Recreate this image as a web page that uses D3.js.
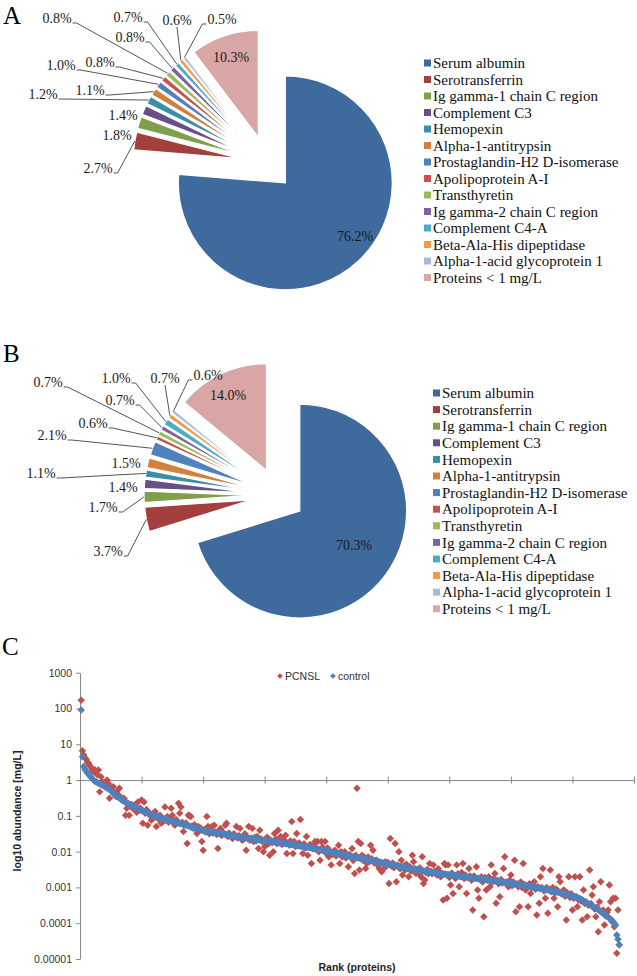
<!DOCTYPE html>
<html>
<head>
<meta charset="utf-8">
<script src="https://cdn.jsdelivr.net/npm/d3@7"></script>
<style>
  body { margin: 0; background: #fff; }
  .serif { font-family: "Liberation Serif", "Times New Roman", serif; }
  .sans { font-family: "Liberation Sans", Arial, sans-serif; }
</style>
</head>
<body>
<svg id="fig" width="637" height="976"></svg>
<script>
// ---- data ----
const proteins = ["Serum albumin", "Serotransferrin", "Ig gamma-1 chain C region", "Complement C3",
  "Hemopexin", "Alpha-1-antitrypsin", "Prostaglandin-H2 D-isomerase", "Apolipoprotein A-I",
  "Transthyretin", "Ig gamma-2 chain C region", "Complement C4-A", "Beta-Ala-His dipeptidase",
  "Alpha-1-acid glycoprotein 1", "Proteins < 1 mg/L"];
const shareA = [76.2, 2.7, 1.8, 1.4, 1.2, 1.1, 1.0, 0.8, 0.8, 0.8, 0.7, 0.6, 0.5, 10.3];
const shareB = [70.3, 3.7, 1.7, 1.4, 1.1, 1.5, 2.1, 0.6, 0.7, 0.7, 1.0, 0.7, 0.6, 14.0];

const seriesNames = ["PCNSL", "control"];
const rankTicks = [0, 50, 100, 150, 200, 250, 300, 350, 400, 450];
const logTicks = [-5, -4, -3, -2, -1, 0, 1, 2, 3];
const logTickLabels = ["0.00001", "0.0001", "0.001", "0.01", "0.1", "1", "10", "100", "1000"];

// log10 abundance [mg/L], ordered by rank (control order)
const control = [
  1.96,0.65,0.38,0.30,0.25,0.20,0.16,0.12,0.08,0.04,
  0.00,-0.03,-0.05,-0.07,-0.09,-0.10,-0.12,-0.14,-0.16,-0.18,
  -0.20,-0.22,-0.24,-0.26,-0.29,-0.33,-0.37,-0.40,-0.43,-0.45,
  -0.48,-0.50,-0.53,-0.55,-0.58,-0.60,-0.62,-0.64,-0.66,-0.68,
  -0.70,-0.71,-0.73,-0.74,-0.76,-0.78,-0.80,-0.81,-0.83,-0.85,
  -0.86,-0.88,-0.89,-0.91,-0.92,-0.94,-0.95,-0.96,-0.98,-0.99,
  -1.00,-1.01,-1.02,-1.04,-1.05,-1.06,-1.07,-1.08,-1.09,-1.10,
  -1.11,-1.12,-1.13,-1.14,-1.15,-1.16,-1.17,-1.18,-1.19,-1.20,
  -1.21,-1.22,-1.23,-1.24,-1.25,-1.26,-1.27,-1.28,-1.29,-1.31,
  -1.32,-1.33,-1.34,-1.35,-1.36,-1.37,-1.38,-1.39,-1.40,-1.41,
  -1.42,-1.42,-1.43,-1.44,-1.45,-1.45,-1.46,-1.46,-1.47,-1.47,
  -1.48,-1.48,-1.49,-1.50,-1.50,-1.51,-1.51,-1.52,-1.53,-1.53,
  -1.54,-1.55,-1.55,-1.56,-1.56,-1.57,-1.58,-1.58,-1.59,-1.60,
  -1.60,-1.61,-1.61,-1.62,-1.62,-1.63,-1.63,-1.64,-1.64,-1.65,
  -1.65,-1.66,-1.66,-1.66,-1.67,-1.67,-1.68,-1.68,-1.68,-1.69,
  -1.69,-1.70,-1.70,-1.71,-1.71,-1.72,-1.72,-1.73,-1.73,-1.74,
  -1.74,-1.75,-1.75,-1.76,-1.76,-1.77,-1.77,-1.78,-1.78,-1.79,
  -1.79,-1.80,-1.81,-1.81,-1.82,-1.82,-1.83,-1.84,-1.84,-1.85,
  -1.85,-1.86,-1.86,-1.87,-1.88,-1.88,-1.89,-1.89,-1.90,-1.91,
  -1.91,-1.92,-1.93,-1.94,-1.94,-1.95,-1.96,-1.97,-1.98,-1.99,
  -1.99,-2.00,-2.01,-2.02,-2.02,-2.03,-2.04,-2.04,-2.05,-2.06,
  -2.07,-2.07,-2.08,-2.09,-2.10,-2.10,-2.11,-2.12,-2.13,-2.13,
  -2.14,-2.15,-2.16,-2.16,-2.17,-2.18,-2.18,-2.19,-2.20,-2.20,
  -2.21,-2.22,-2.22,-2.23,-2.24,-2.24,-2.25,-2.26,-2.26,-2.27,
  -2.28,-2.29,-2.29,-2.30,-2.31,-2.32,-2.32,-2.33,-2.34,-2.35,
  -2.35,-2.36,-2.36,-2.37,-2.38,-2.39,-2.39,-2.40,-2.41,-2.42,
  -2.42,-2.43,-2.44,-2.44,-2.45,-2.46,-2.46,-2.47,-2.48,-2.48,
  -2.49,-2.50,-2.50,-2.51,-2.52,-2.52,-2.53,-2.54,-2.54,-2.55,
  -2.55,-2.56,-2.56,-2.57,-2.57,-2.58,-2.58,-2.59,-2.59,-2.60,
  -2.60,-2.61,-2.61,-2.62,-2.62,-2.63,-2.63,-2.64,-2.64,-2.65,
  -2.65,-2.66,-2.66,-2.67,-2.67,-2.67,-2.68,-2.68,-2.69,-2.69,
  -2.69,-2.70,-2.70,-2.71,-2.71,-2.71,-2.72,-2.72,-2.73,-2.73,
  -2.74,-2.74,-2.75,-2.75,-2.76,-2.76,-2.77,-2.77,-2.78,-2.78,
  -2.79,-2.79,-2.80,-2.80,-2.81,-2.81,-2.82,-2.82,-2.83,-2.83,
  -2.84,-2.84,-2.85,-2.85,-2.86,-2.86,-2.87,-2.87,-2.88,-2.88,
  -2.89,-2.90,-2.90,-2.91,-2.91,-2.92,-2.92,-2.93,-2.93,-2.94,
  -2.94,-2.95,-2.95,-2.96,-2.97,-2.97,-2.98,-2.99,-2.99,-3.00,
  -3.01,-3.01,-3.02,-3.03,-3.03,-3.04,-3.05,-3.06,-3.06,-3.07,
  -3.08,-3.09,-3.09,-3.10,-3.11,-3.11,-3.12,-3.13,-3.14,-3.15,
  -3.16,-3.17,-3.18,-3.19,-3.19,-3.20,-3.21,-3.22,-3.23,-3.25,
  -3.26,-3.27,-3.28,-3.29,-3.30,-3.31,-3.33,-3.35,-3.37,-3.40,
  -3.42,-3.44,-3.46,-3.48,-3.50,-3.52,-3.54,-3.56,-3.58,-3.60,
  -3.63,-3.65,-3.67,-3.70,-3.72,-3.74,-3.77,-3.80,-3.83,-3.86,
  -3.89,-3.92,-3.96,-4.00,-4.05,-4.33,-4.45,-4.61
];

const pcnsl = [
  2.23,0.82,0.70,0.62,0.58,0.50,0.47,0.40,0.35,0.28,
  0.23,0.29,0.20,0.15,0.28,-0.33,0.09,-0.05,-0.08,-0.12,
  -0.15,0.00,-0.09,-0.51,-0.20,-0.25,-0.19,-0.35,-0.45,-0.33,
  -0.42,-0.23,-0.48,-0.56,-0.51,-0.52,-0.98,-0.79,-0.65,-0.98,
  -0.72,-0.68,-0.80,-0.70,-0.75,-0.90,-0.61,-0.85,-0.78,-0.56,
  -1.21,-0.61,-0.93,-0.82,-1.26,-0.90,-1.00,-1.12,-0.95,-1.05,
  -0.88,-1.30,-1.02,-1.10,-0.98,-1.21,-1.08,-1.15,-0.75,-1.12,
  -1.02,-1.18,-1.08,-0.79,-0.98,-1.20,-1.26,-1.10,-1.15,-0.65,
  -0.93,-0.75,-1.18,-1.44,-1.25,-1.20,-1.77,-0.98,-1.00,-1.02,
  -1.28,-1.35,-1.25,-1.32,-1.49,-1.30,-1.40,-1.34,-1.72,-1.96,
  -1.38,-1.45,-1.02,-1.30,-1.50,-1.40,-1.30,-1.48,-1.26,-1.45,
  -1.52,-1.91,-1.40,-1.35,-1.55,-1.45,-1.50,-1.26,-1.21,-1.58,
  -1.48,-1.54,-1.60,-1.63,-1.50,-1.58,-1.30,-1.62,-1.55,-1.35,
  -1.65,-1.68,-1.58,-1.50,-1.96,-1.60,-1.30,-1.68,-1.62,-1.35,
  -1.72,-1.60,-1.70,-1.58,-1.91,-1.40,-1.65,-1.72,-2.00,-1.86,
  -1.70,-1.60,-1.78,-2.10,-1.68,-1.75,-2.00,-1.49,-1.65,-1.78,
  -1.40,-1.70,-1.58,-1.80,-1.72,-1.68,-1.54,-2.05,-1.76,-1.82,
  -1.70,-1.16,-2.05,-1.72,-1.86,-1.49,-1.80,-1.76,-1.10,-1.85,
  -2.05,-1.78,-1.90,-1.58,-2.10,-1.86,-1.80,-2.33,-1.92,-1.82,
  -1.72,-1.95,-1.72,-2.00,-2.24,-1.72,-1.88,-1.96,-1.72,-2.05,
  -1.90,-2.14,-1.98,-2.37,-2.08,-2.00,-1.96,-2.12,-2.05,-1.82,
  -2.33,-2.00,-2.15,-2.05,-2.00,-2.18,-2.12,-2.42,-2.08,-2.15,
  -1.91,-2.25,-2.61,-2.10,-0.23,-1.72,-2.51,-1.77,-2.10,-2.25,
  -2.15,-2.47,-2.33,-2.15,-2.28,-1.82,-2.20,-1.96,-2.32,-2.25,
  -2.24,-2.38,-2.47,-2.30,-2.56,-2.50,-2.35,-2.28,-2.40,-2.30,
  -2.89,-1.63,-2.40,-2.32,-2.45,-1.77,-2.84,-2.38,-2.00,-2.48,
  -2.24,-2.65,-2.40,-2.51,-2.35,-2.48,-2.70,-2.42,-2.55,-2.10,
  -2.28,-2.48,-2.61,-2.50,-2.58,-2.45,-2.70,-2.14,-2.89,-2.79,
  -2.58,-2.50,-2.62,-2.33,-2.55,-2.62,-2.37,-2.55,-2.61,-2.65,
  -2.48,-2.58,-2.70,-2.62,-3.35,-2.33,-2.37,-3.30,-2.37,-2.72,
  -2.93,-2.60,-3.17,-2.68,-2.75,-2.37,-2.62,-2.98,-2.70,-2.58,
  -2.33,-2.75,-2.65,-3.17,-2.72,-2.47,-2.68,-2.80,-3.63,-2.68,
  -2.75,-2.42,-3.07,-3.30,-2.78,-2.70,-2.85,-3.82,-2.72,-3.07,
  -2.80,-2.70,-2.98,-2.37,-2.85,-2.75,-2.61,-3.44,-2.80,-2.90,
  -3.26,-2.78,-2.88,-2.47,-2.14,-2.85,-2.92,-2.98,-2.80,-2.65,
  -2.95,-2.85,-2.24,-3.68,-2.90,-2.98,-3.54,-2.85,-3.00,-2.33,
  -2.92,-3.07,-2.98,-3.54,-2.90,-3.17,-3.00,-2.92,-2.84,-3.05,
  -3.77,-2.98,-3.44,-2.70,-3.00,-2.47,-3.10,-3.30,-3.00,-3.72,
  -3.05,-2.51,-3.12,-3.00,-3.30,-3.15,-3.05,-3.54,-2.70,-2.84,
  -3.18,-3.10,-3.07,-3.25,-3.91,-3.15,-2.70,-3.28,-3.18,-3.63,
  -3.30,-2.70,-3.25,-3.54,-3.35,-2.70,-3.38,-3.91,-3.07,-3.45,
  -3.40,-3.82,-3.50,-2.51,-3.45,-3.21,-2.98,-3.60,-3.82,-3.55,
  -4.24,-3.40,-2.84,-3.70,-3.63,-4.05,-3.80,-3.70,-3.63,-2.93,
  -3.40,-3.95,-3.30,-4.10,-3.30,-4.84,-3.63,-4.60
];

// ---- styles / layout ----
const sliceColors = ["#3f6a9e", "#a33f3c", "#7f9f4a", "#684f88", "#3a8fa6", "#d2803c",
  "#4f81bd", "#c8504d", "#9bbb59", "#8064a2", "#4bacc6", "#f79646", "#a8badb", "#d9a6a6"];
const seriesColors = ["#c0504d", "#4f81bd"];

// label centres for each slice, and whether Excel drew a leader line
const labelPosA = [[355, 236], [98, 168], [117, 135], [123, 115], [43, 94], [90, 90], [61, 65],
  [100, 62], [57, 18], [130, 37], [128, 17], [177, 20], [222, 19], [231, 57]];
const leaderA = [0, 1, 0, 0, 1, 1, 1, 1, 1, 1, 1, 1, 1, 0];
const labelPosB = [[354, 545], [108, 551], [103, 507], [123, 487], [41, 473], [126, 463], [52, 435],
  [93, 423], [48, 382], [120, 400], [116, 378], [165, 378], [208, 375], [228, 395]];
const leaderB = [0, 1, 1, 0, 1, 0, 1, 1, 1, 1, 1, 1, 1, 0];

const svg = d3.select("#fig");

const drawPie = (props) => {
  const g = svg.append("g").attr("class", "serif");
  const slices = d3.pie().sort(null).value(d => d)(props.values);
  const arc = d3.arc().innerRadius(0).outerRadius(props.r);
  const at = (a, dist) => [props.cx + dist * Math.sin(a), props.cy - dist * Math.cos(a)];
  const midOf = s => (s.startAngle + s.endAngle) / 2;

  slices.forEach((s, i) => {
    const [tx, ty] = at(midOf(s), props.explode);
    g.append("path")
      .attr("d", arc(s))
      .attr("transform", `translate(${tx},${ty})`)
      .attr("fill", sliceColors[i])
      .attr("stroke", "#fff")
      .attr("stroke-width", 1.3);
  });

  slices.forEach((s, i) => {
    const [lx, ly] = props.labels[i];
    const t = g.append("text")
      .attr("x", lx).attr("y", ly)
      .attr("dy", "0.35em")
      .attr("text-anchor", "middle")
      .style("font-size", "14px")
      .attr("fill", "#1a1a1a")
      .text(d3.format(".1f")(s.data) + "%");
    if (!props.leaders[i]) return;
    const w = t.node().getComputedTextLength();
    const [ax, ay] = at(midOf(s), props.explode + props.r);
    const base = ly + 5;
    let pts;
    if (ax > lx + w / 2) pts = [[lx + w / 2 + 1, base], [lx + w / 2 + 5, base], [ax, ay]];
    else if (ax < lx - w / 2) pts = [[lx - w / 2 - 1, base], [lx - w / 2 - 5, base], [ax, ay]];
    else pts = [[lx, ly + 7], [ax, ay]];
    g.append("path")
      .attr("d", d3.line()(pts))
      .attr("fill", "none")
      .attr("stroke", "#404040")
      .attr("stroke-width", 0.9);
  });

  // legend
  const lg = g.append("g");
  proteins.forEach((name, i) => {
    const yy = props.legendY + i * props.legendStep;
    lg.append("rect")
      .attr("x", props.legendX).attr("y", yy - 3.5)
      .attr("width", 7).attr("height", 7)
      .attr("fill", sliceColors[i]);
    lg.append("text")
      .attr("x", props.legendX + 9).attr("y", yy)
      .attr("dy", "0.35em")
      .style("font-size", "15px")
      .attr("fill", "#111")
      .text(name);
  });

  svg.append("text")
    .attr("class", "serif")
    .attr("x", 3).attr("y", props.letterY)
    .style("font-size", "25px")
    .text(props.letter);
};

drawPie({ values: shareA, cx: 267, cy: 163, r: 107, explode: 27, labels: labelPosA, leaders: leaderA,
  legendX: 424, legendY: 63, legendStep: 16.5, letter: "A", letterY: 24 });
drawPie({ values: shareB, cx: 278, cy: 495, r: 107, explode: 27, labels: labelPosB, leaders: leaderB,
  legendX: 433, legendY: 393, legendStep: 16.6, letter: "B", letterY: 362 });

// ---- panel C: rank vs abundance ----
svg.append("text").attr("class", "serif")
  .attr("x", 2).attr("y", 655).style("font-size", "25px").text("C");

const gc = svg.append("g").attr("class", "sans");
const xScale = d3.scaleLinear().domain([0, 450]).range([80, 634]);
const yScale = d3.scaleLinear().domain([-5, 3]).range([959, 672.7]);
const axisGrey = "#888";

const yAxis = d3.axisLeft(yScale)
  .tickValues(logTicks)
  .tickSize(4)
  .tickSizeOuter(0)
  .tickPadding(4)
  .tickFormat((d, i) => logTickLabels[i]);
const yAxisGroup = gc.append("g")
  .attr("transform", "translate(80,0)")
  .call(yAxis);
yAxisGroup.select(".domain").attr("stroke", axisGrey);
yAxisGroup.selectAll(".tick line").attr("stroke", axisGrey);
yAxisGroup.selectAll(".tick text")
  .style("font-size", "10.5px")
  .style("font-family", "'Liberation Sans', Arial, sans-serif")
  .attr("fill", "#333");

const xAxis = d3.axisBottom(xScale)
  .tickValues(rankTicks)
  .tickSize(3.5)
  .tickSizeOuter(0)
  .tickFormat("");
const xAxisGroup = gc.append("g")
  .attr("transform", `translate(0,${yScale(0)})`)
  .call(xAxis);
xAxisGroup.select(".domain").attr("stroke", axisGrey);
xAxisGroup.selectAll(".tick line").attr("stroke", axisGrey).attr("y1", -3.5);

const marker = d3.symbol().type(d3.symbolSquare).size(28);
[pcnsl, control].forEach((series, k) => {
  gc.append("g")
    .selectAll("path")
    .data(series)
    .join("path")
    .attr("d", marker)
    .attr("transform", (d, i) => `translate(${xScale(i + 1)},${yScale(d)}) rotate(45)`)
    .attr("fill", seriesColors[k]);
});

// legend
const legendItems = [{ x: 280 }, { x: 333 }];
legendItems.forEach((it, k) => {
  gc.append("path")
    .attr("d", d3.symbol().type(d3.symbolSquare).size(16)())
    .attr("transform", `translate(${it.x},676) rotate(45)`)
    .attr("fill", seriesColors[k]);
  gc.append("text")
    .attr("x", it.x + 5).attr("y", 676)
    .attr("dy", "0.35em")
    .style("font-size", "10.5px")
    .attr("fill", "#333")
    .text(seriesNames[k]);
});

gc.append("text")
  .attr("x", (xScale.range()[0] + xScale.range()[1]) / 2)
  .attr("y", 971)
  .attr("text-anchor", "middle")
  .style("font-size", "10.5px")
  .style("font-weight", "bold")
  .attr("fill", "#222")
  .text("Rank (proteins)");

gc.append("text")
  .attr("transform", "translate(21,811) rotate(-90)")
  .attr("text-anchor", "middle")
  .style("font-size", "10.5px")
  .style("font-weight", "bold")
  .attr("fill", "#222")
  .text("log10 abundance [mg/L]");
</script>
</body>
</html>
